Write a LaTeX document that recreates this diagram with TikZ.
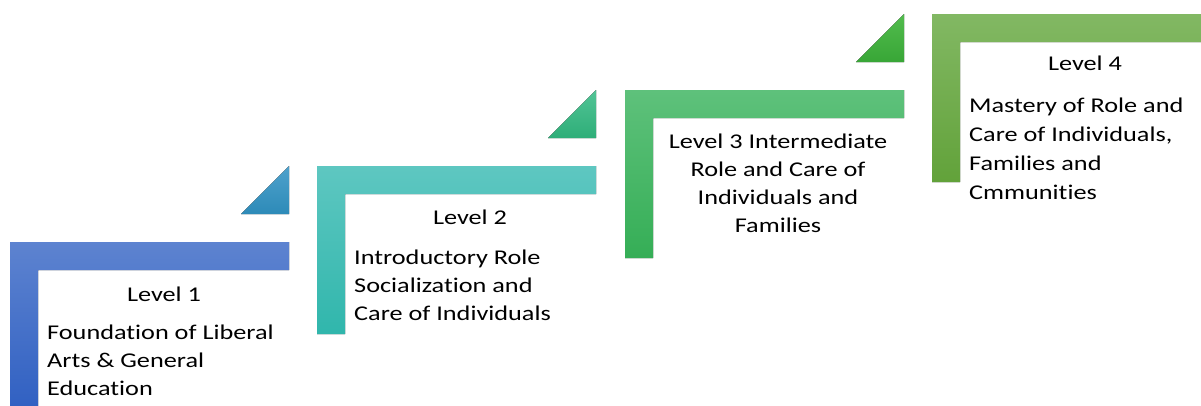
\documentclass[tikz,border=0pt]{standalone}
\usepackage{fontspec}
\setmainfont{Carlito}[Ligatures=NoCommon, FakeStretch=1.25]
\definecolor{s1t}{HTML}{5D83D0}
\definecolor{s1b}{HTML}{3060C2}
\definecolor{t1t}{HTML}{4FA2CC}
\definecolor{t1b}{HTML}{2D8AB8}
\definecolor{s2t}{HTML}{5EC7C1}
\definecolor{s2b}{HTML}{30B6AC}
\definecolor{t2t}{HTML}{52C496}
\definecolor{t2b}{HTML}{2EAE78}
\definecolor{s3t}{HTML}{5EC17B}
\definecolor{s3b}{HTML}{35AE56}
\definecolor{t3t}{HTML}{52BC4E}
\definecolor{t3b}{HTML}{38A636}
\definecolor{s4t}{HTML}{82B863}
\definecolor{s4b}{HTML}{62A23A}
\tikzset{
  txt/.style={font=\fontsize{21}{28}\selectfont, inner sep=0pt, text=black},
  title/.style={txt, anchor=base},
  body/.style={txt, anchor=north west, align=left},
}
\newcommand{\stepshape}[4]{% x, y, top colour, bottom colour
  \fill[top color=#3, bottom color=#4]
    (#1,#2) -- ++(279,0) -- ++(0,28) -- ++(-251,0) -- ++(0,140) -- ++(-28,0) -- cycle;}
\newcommand{\stepTri}[4]{% x, y of step, top colour, bottom colour
  \fill[top color=#3, bottom color=#4]
    (#1+279,#2-76) -- (#1+279,#2-28) -- (#1+231,#2-28) -- cycle;}
\begin{document}
\begin{tikzpicture}[x=1pt,y=-1pt]
\useasboundingbox (0,0) rectangle (1201,405);
\clip (0,0) rectangle (1201,405);
\stepshape{10}{242}{s1t}{s1b}
\stepTri{10}{242}{t1t}{t1b}
\stepshape{317}{166}{s2t}{s2b}
\stepTri{317}{166}{t2t}{t2b}
\stepshape{625}{90}{s3t}{s3b}
\stepTri{625}{90}{t3t}{t3b}
\stepshape{932}{14}{s4t}{s4b}

\node[title] (l1) at (164,301) {Level 1};
\node[body] (b1) at (47,325) {Foundation of Liberal\\Arts \& General\\Education};
\node[title] (l2) at (470,224) {Level 2};
\node[body] (b2) at (354,250) {Introductory Role\\Socialization and\\Care of Individuals};
\node[txt, anchor=north, align=center] (b3) at (778,134) {Level 3 Intermediate\\Role and Care of\\Individuals and\\Families};
\node[title] (l4) at (1085,70) {Level 4};
\node[body, font=\fontsize{21}{29}\selectfont] (b4) at (969,98) {Mastery of Role and\\Care of Individuals,\\Families and\\Cmmunities};
\end{tikzpicture}
\end{document}
